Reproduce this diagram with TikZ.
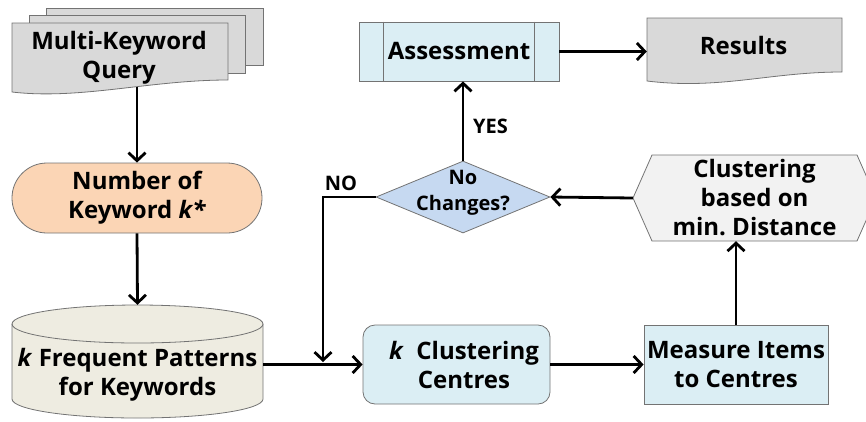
\documentclass[tikz,border=0pt]{standalone}
\usepackage{fontspec}
\setmainfont{Open Sans}
\usetikzlibrary{arrows.meta,shapes.geometric}
\definecolor{docgray}{HTML}{D9D9D9}
\definecolor{peach}{HTML}{FBD5B5}
\definecolor{beige}{HTML}{EEECE1}
\definecolor{lblue}{HTML}{DBEEF4}
\definecolor{dblue}{HTML}{C6D9F1}
\definecolor{hexgray}{HTML}{F2F2F2}
\begin{document}
\begin{tikzpicture}[x=1pt,y=1pt,
  every node/.style={font=\bfseries\fontsize{24}{29}\selectfont, align=center, inner sep=0pt},
  shapeline/.style={draw=black!55, line width=0.8pt},
  conn/.style={line width=2.8pt, -{Straight Barb[length=8pt,width=17pt]}},
  lbl/.style={font=\bfseries\fontsize{20}{26}\selectfont}]
\clip (0,0) rectangle (866,-421);

% stacked query documents
\filldraw[shapeline, fill=docgray] (46,-8) rectangle (263,-65);
\filldraw[shapeline, fill=docgray] (29,-15) rectangle (245,-73);
\filldraw[shapeline, fill=docgray] (12,-23) -- (228,-23) -- (228,-80)
  .. controls (150,-80) and (80,-100) .. (12,-92) -- cycle;
\node (mkq) at (119,-58) {Multi-Keyword\\Query};
\coordinate (mkqbot) at (137,-87);

% terminator
\node[shapeline, fill=peach, rounded corners=34.9pt, minimum width=250pt, minimum height=70pt]
  (num) at (137,-198) {Number of\\Keyword \textit{k*}};

% database cylinder
\filldraw[shapeline, fill=beige] (12,-324) -- (12,-399)
  arc[start angle=180, end angle=360, x radius=125.5pt, y radius=19pt] -- (263,-324)
  arc[start angle=0, end angle=180, x radius=125.5pt, y radius=19pt] -- cycle;
\draw[shapeline] (12,-324) arc[start angle=180, end angle=360, x radius=125.5pt, y radius=19pt];
\node[minimum width=251pt, minimum height=113pt] (fp) at (137.5,-361.5) {};
\node (fptext) at (137.5,-375) {\textit{k} Frequent Patterns\\for Keywords};

% process boxes
\node[shapeline, fill=lblue, rounded corners=12pt, minimum width=187pt, minimum height=79pt]
  (kc) at (456.5,-364.5) {};
\node (kctext) at (464,-365) {\textit{k}\ \ Clustering\\Centres};
\node[shapeline, fill=lblue, minimum width=184pt, minimum height=79pt]
  (ms) at (736,-364.5) {Measure Items\\to Centres};

% preparation hexagon
\filldraw[shapeline, fill=hexgray] (633,-198) -- (652,-155) -- (857,-155) -- (876,-198)
  -- (857,-241) -- (652,-241) -- cycle;
\node[minimum width=243pt, minimum height=86pt] (cl) at (754.5,-198) {Clustering\\based on\\min.\ Distance};

% decision
\node[diamond, shapeline, fill=dblue, minimum width=174pt, minimum height=72pt] (dec) at (463,-197) {};
\node[lbl] (dectext) at (463,-193) {No\\Changes?};

% predefined process
\node[shapeline, fill=lblue, minimum width=200pt, minimum height=59pt] (as) at (459,-51.5) {Assessment};
\draw[shapeline] ([xshift=25pt]as.north west) -- ([xshift=25pt]as.south west);
\draw[shapeline] ([xshift=-25pt]as.north east) -- ([xshift=-25pt]as.south east);

% results document
\filldraw[shapeline, fill=docgray] (647,-18) -- (842,-18) -- (842,-72)
  .. controls (770,-72) and (720,-90) .. (647,-81) -- cycle;
\node[minimum width=195pt, minimum height=67pt] (res) at (744.5,-51.5) {};
\node (restext) at (743.5,-45.5) {Results};

% connectors
\draw[conn] (mkqbot) -- (num.north);
\draw[conn] (num.south) -- (fp.north);
\draw[conn] (fp.east |- kc.west) -- (kc.west);
\draw[conn] (kc.east) -- (ms.west);
\draw[conn] (ms.north) -- (ms.north |- cl.south);
\draw[conn] (cl.west) -- (dec.east);
\draw[conn] (dec.north) -- (dec.north |- as.south);
\draw[conn] (as.east) -- (res.west);
\coordinate (nojoin) at (323,-362);
\draw[conn] (dec.west) -| (nojoin);

% branch labels
\node[lbl] (yes) at (490.5,-126) {YES};
\node[lbl] (no) at (341,-183.5) {NO};
\end{tikzpicture}
\end{document}
